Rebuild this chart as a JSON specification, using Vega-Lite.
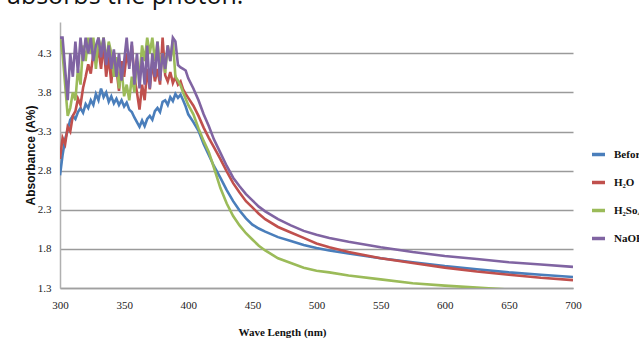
{
  "$schema": "https://vega.github.io/schema/vega-lite/v6.json",
  "width": 513,
  "height": 266,
  "autosize": {"type": "none"},
  "padding": {"left": 60, "top": 22, "right": 66, "bottom": 59},
  "background": "white",
  "title": {"text": "absorbs the photon.", "anchor": "start", "frame": "group", "font": "Open Sans", "fontSize": 25, "fontWeight": "normal", "color": "#111", "baseline": "alphabetic", "offset": 0, "dy": 7, "dx": -53},
  "config": {"view": {"stroke": null}},
  "data": {"values": [
    {"s":"Before","nm":300,"a":2.74},{"s":"Before","nm":302,"a":3.0},{"s":"Before","nm":304,"a":3.2},{"s":"Before","nm":306,"a":3.32},{"s":"Before","nm":308,"a":3.45},{"s":"Before","nm":310,"a":3.5},{"s":"Before","nm":312,"a":3.46},{"s":"Before","nm":314,"a":3.55},{"s":"Before","nm":316,"a":3.6},{"s":"Before","nm":318,"a":3.54},{"s":"Before","nm":320,"a":3.65},{"s":"Before","nm":322,"a":3.6},{"s":"Before","nm":324,"a":3.7},{"s":"Before","nm":326,"a":3.64},{"s":"Before","nm":328,"a":3.78},{"s":"Before","nm":330,"a":3.7},{"s":"Before","nm":332,"a":3.85},{"s":"Before","nm":334,"a":3.74},{"s":"Before","nm":336,"a":3.8},{"s":"Before","nm":338,"a":3.68},{"s":"Before","nm":340,"a":3.75},{"s":"Before","nm":342,"a":3.66},{"s":"Before","nm":344,"a":3.72},{"s":"Before","nm":346,"a":3.64},{"s":"Before","nm":348,"a":3.7},{"s":"Before","nm":350,"a":3.62},{"s":"Before","nm":352,"a":3.67},{"s":"Before","nm":354,"a":3.58},{"s":"Before","nm":356,"a":3.55},{"s":"Before","nm":358,"a":3.48},{"s":"Before","nm":360,"a":3.42},{"s":"Before","nm":362,"a":3.36},{"s":"Before","nm":364,"a":3.44},{"s":"Before","nm":366,"a":3.37},{"s":"Before","nm":368,"a":3.46},{"s":"Before","nm":370,"a":3.5},{"s":"Before","nm":372,"a":3.45},{"s":"Before","nm":374,"a":3.56},{"s":"Before","nm":376,"a":3.6},{"s":"Before","nm":378,"a":3.55},{"s":"Before","nm":380,"a":3.68},{"s":"Before","nm":382,"a":3.7},{"s":"Before","nm":384,"a":3.64},{"s":"Before","nm":386,"a":3.74},{"s":"Before","nm":388,"a":3.69},{"s":"Before","nm":390,"a":3.78},{"s":"Before","nm":392,"a":3.73},{"s":"Before","nm":394,"a":3.77},{"s":"Before","nm":396,"a":3.7},{"s":"Before","nm":398,"a":3.62},{"s":"Before","nm":400,"a":3.52},{"s":"Before","nm":404,"a":3.42},{"s":"Before","nm":408,"a":3.31},{"s":"Before","nm":412,"a":3.14},{"s":"Before","nm":416,"a":3.0},{"s":"Before","nm":420,"a":2.86},{"s":"Before","nm":425,"a":2.71},{"s":"Before","nm":430,"a":2.55},{"s":"Before","nm":435,"a":2.41},{"s":"Before","nm":440,"a":2.29},{"s":"Before","nm":445,"a":2.19},{"s":"Before","nm":450,"a":2.11},{"s":"Before","nm":455,"a":2.06},{"s":"Before","nm":460,"a":2.02},{"s":"Before","nm":470,"a":1.95},{"s":"Before","nm":480,"a":1.9},{"s":"Before","nm":490,"a":1.85},{"s":"Before","nm":500,"a":1.81},{"s":"Before","nm":510,"a":1.78},{"s":"Before","nm":525,"a":1.74},{"s":"Before","nm":550,"a":1.68},{"s":"Before","nm":575,"a":1.63},{"s":"Before","nm":600,"a":1.58},{"s":"Before","nm":625,"a":1.54},{"s":"Before","nm":650,"a":1.5},{"s":"Before","nm":675,"a":1.47},{"s":"Before","nm":700,"a":1.44},

    {"s":"H₂O","nm":300,"a":2.95},{"s":"H₂O","nm":302,"a":3.22},{"s":"H₂O","nm":304,"a":3.14},{"s":"H₂O","nm":306,"a":3.36},{"s":"H₂O","nm":308,"a":3.3},{"s":"H₂O","nm":310,"a":3.5},{"s":"H₂O","nm":312,"a":3.56},{"s":"H₂O","nm":314,"a":3.72},{"s":"H₂O","nm":316,"a":3.64},{"s":"H₂O","nm":318,"a":3.86},{"s":"H₂O","nm":320,"a":4.0},{"s":"H₂O","nm":322,"a":4.16},{"s":"H₂O","nm":324,"a":4.04},{"s":"H₂O","nm":326,"a":4.3},{"s":"H₂O","nm":328,"a":4.18},{"s":"H₂O","nm":330,"a":4.36},{"s":"H₂O","nm":332,"a":4.1},{"s":"H₂O","nm":334,"a":4.42},{"s":"H₂O","nm":336,"a":4.0},{"s":"H₂O","nm":338,"a":4.26},{"s":"H₂O","nm":340,"a":3.92},{"s":"H₂O","nm":342,"a":4.3},{"s":"H₂O","nm":344,"a":4.1},{"s":"H₂O","nm":346,"a":3.82},{"s":"H₂O","nm":348,"a":4.2},{"s":"H₂O","nm":350,"a":4.0},{"s":"H₂O","nm":352,"a":4.3},{"s":"H₂O","nm":354,"a":4.14},{"s":"H₂O","nm":356,"a":4.4},{"s":"H₂O","nm":358,"a":4.0},{"s":"H₂O","nm":360,"a":3.8},{"s":"H₂O","nm":362,"a":3.58},{"s":"H₂O","nm":364,"a":3.9},{"s":"H₂O","nm":366,"a":3.7},{"s":"H₂O","nm":368,"a":4.1},{"s":"H₂O","nm":370,"a":3.84},{"s":"H₂O","nm":372,"a":4.2},{"s":"H₂O","nm":374,"a":3.94},{"s":"H₂O","nm":376,"a":4.1},{"s":"H₂O","nm":378,"a":3.9},{"s":"H₂O","nm":380,"a":4.5},{"s":"H₂O","nm":382,"a":4.02},{"s":"H₂O","nm":384,"a":3.94},{"s":"H₂O","nm":386,"a":4.06},{"s":"H₂O","nm":388,"a":3.92},{"s":"H₂O","nm":390,"a":4.0},{"s":"H₂O","nm":392,"a":3.9},{"s":"H₂O","nm":394,"a":3.94},{"s":"H₂O","nm":396,"a":3.84},{"s":"H₂O","nm":398,"a":3.78},{"s":"H₂O","nm":400,"a":3.73},{"s":"H₂O","nm":404,"a":3.63},{"s":"H₂O","nm":408,"a":3.5},{"s":"H₂O","nm":412,"a":3.35},{"s":"H₂O","nm":416,"a":3.22},{"s":"H₂O","nm":420,"a":3.1},{"s":"H₂O","nm":425,"a":2.95},{"s":"H₂O","nm":430,"a":2.79},{"s":"H₂O","nm":435,"a":2.64},{"s":"H₂O","nm":440,"a":2.52},{"s":"H₂O","nm":445,"a":2.41},{"s":"H₂O","nm":450,"a":2.33},{"s":"H₂O","nm":455,"a":2.25},{"s":"H₂O","nm":460,"a":2.18},{"s":"H₂O","nm":470,"a":2.08},{"s":"H₂O","nm":480,"a":2.01},{"s":"H₂O","nm":490,"a":1.94},{"s":"H₂O","nm":500,"a":1.87},{"s":"H₂O","nm":510,"a":1.82},{"s":"H₂O","nm":525,"a":1.76},{"s":"H₂O","nm":550,"a":1.68},{"s":"H₂O","nm":575,"a":1.62},{"s":"H₂O","nm":600,"a":1.56},{"s":"H₂O","nm":625,"a":1.51},{"s":"H₂O","nm":650,"a":1.47},{"s":"H₂O","nm":675,"a":1.43},{"s":"H₂O","nm":700,"a":1.4},

    {"s":"H₂So₄","nm":300,"a":4.5},{"s":"H₂So₄","nm":302,"a":4.3},{"s":"H₂So₄","nm":304,"a":3.9},{"s":"H₂So₄","nm":306,"a":3.5},{"s":"H₂So₄","nm":308,"a":3.6},{"s":"H₂So₄","nm":310,"a":3.8},{"s":"H₂So₄","nm":312,"a":3.7},{"s":"H₂So₄","nm":314,"a":4.1},{"s":"H₂So₄","nm":316,"a":3.9},{"s":"H₂So₄","nm":318,"a":4.4},{"s":"H₂So₄","nm":320,"a":4.2},{"s":"H₂So₄","nm":322,"a":4.5},{"s":"H₂So₄","nm":324,"a":4.3},{"s":"H₂So₄","nm":326,"a":4.5},{"s":"H₂So₄","nm":328,"a":4.1},{"s":"H₂So₄","nm":330,"a":4.5},{"s":"H₂So₄","nm":332,"a":4.35},{"s":"H₂So₄","nm":334,"a":4.5},{"s":"H₂So₄","nm":336,"a":4.2},{"s":"H₂So₄","nm":338,"a":4.45},{"s":"H₂So₄","nm":340,"a":4.3},{"s":"H₂So₄","nm":342,"a":4.0},{"s":"H₂So₄","nm":344,"a":4.25},{"s":"H₂So₄","nm":346,"a":3.85},{"s":"H₂So₄","nm":348,"a":4.1},{"s":"H₂So₄","nm":350,"a":3.75},{"s":"H₂So₄","nm":352,"a":3.9},{"s":"H₂So₄","nm":354,"a":3.7},{"s":"H₂So₄","nm":356,"a":4.0},{"s":"H₂So₄","nm":358,"a":3.8},{"s":"H₂So₄","nm":360,"a":4.2},{"s":"H₂So₄","nm":362,"a":4.0},{"s":"H₂So₄","nm":364,"a":4.4},{"s":"H₂So₄","nm":366,"a":4.2},{"s":"H₂So₄","nm":368,"a":4.5},{"s":"H₂So₄","nm":370,"a":4.3},{"s":"H₂So₄","nm":372,"a":4.5},{"s":"H₂So₄","nm":374,"a":4.2},{"s":"H₂So₄","nm":376,"a":4.45},{"s":"H₂So₄","nm":378,"a":4.1},{"s":"H₂So₄","nm":380,"a":4.3},{"s":"H₂So₄","nm":382,"a":4.05},{"s":"H₂So₄","nm":384,"a":4.4},{"s":"H₂So₄","nm":386,"a":4.2},{"s":"H₂So₄","nm":388,"a":4.47},{"s":"H₂So₄","nm":390,"a":4.0},{"s":"H₂So₄","nm":392,"a":3.95},{"s":"H₂So₄","nm":394,"a":3.89},{"s":"H₂So₄","nm":396,"a":3.8},{"s":"H₂So₄","nm":398,"a":3.72},{"s":"H₂So₄","nm":400,"a":3.64},{"s":"H₂So₄","nm":404,"a":3.52},{"s":"H₂So₄","nm":408,"a":3.34},{"s":"H₂So₄","nm":412,"a":3.18},{"s":"H₂So₄","nm":416,"a":3.04},{"s":"H₂So₄","nm":420,"a":2.84},{"s":"H₂So₄","nm":425,"a":2.58},{"s":"H₂So₄","nm":430,"a":2.38},{"s":"H₂So₄","nm":435,"a":2.22},{"s":"H₂So₄","nm":440,"a":2.1},{"s":"H₂So₄","nm":445,"a":2.0},{"s":"H₂So₄","nm":450,"a":1.92},{"s":"H₂So₄","nm":455,"a":1.84},{"s":"H₂So₄","nm":460,"a":1.78},{"s":"H₂So₄","nm":470,"a":1.68},{"s":"H₂So₄","nm":480,"a":1.62},{"s":"H₂So₄","nm":490,"a":1.56},{"s":"H₂So₄","nm":500,"a":1.52},{"s":"H₂So₄","nm":510,"a":1.5},{"s":"H₂So₄","nm":525,"a":1.46},{"s":"H₂So₄","nm":550,"a":1.41},{"s":"H₂So₄","nm":575,"a":1.36},{"s":"H₂So₄","nm":600,"a":1.33},{"s":"H₂So₄","nm":625,"a":1.305},{"s":"H₂So₄","nm":650,"a":1.28},{"s":"H₂So₄","nm":675,"a":1.26},{"s":"H₂So₄","nm":700,"a":1.24},

    {"s":"NaOH","nm":300,"a":4.5},{"s":"NaOH","nm":302,"a":4.5},{"s":"NaOH","nm":304,"a":4.1},{"s":"NaOH","nm":306,"a":3.7},{"s":"NaOH","nm":308,"a":4.3},{"s":"NaOH","nm":310,"a":4.0},{"s":"NaOH","nm":312,"a":4.45},{"s":"NaOH","nm":314,"a":4.05},{"s":"NaOH","nm":316,"a":4.5},{"s":"NaOH","nm":318,"a":4.2},{"s":"NaOH","nm":320,"a":4.5},{"s":"NaOH","nm":322,"a":4.3},{"s":"NaOH","nm":324,"a":4.5},{"s":"NaOH","nm":326,"a":4.2},{"s":"NaOH","nm":328,"a":4.4},{"s":"NaOH","nm":330,"a":4.5},{"s":"NaOH","nm":332,"a":4.25},{"s":"NaOH","nm":334,"a":4.5},{"s":"NaOH","nm":336,"a":4.15},{"s":"NaOH","nm":338,"a":4.4},{"s":"NaOH","nm":340,"a":4.1},{"s":"NaOH","nm":342,"a":4.35},{"s":"NaOH","nm":344,"a":4.0},{"s":"NaOH","nm":346,"a":4.3},{"s":"NaOH","nm":348,"a":3.95},{"s":"NaOH","nm":350,"a":4.2},{"s":"NaOH","nm":352,"a":4.5},{"s":"NaOH","nm":354,"a":4.1},{"s":"NaOH","nm":356,"a":4.45},{"s":"NaOH","nm":358,"a":3.9},{"s":"NaOH","nm":360,"a":4.3},{"s":"NaOH","nm":362,"a":3.85},{"s":"NaOH","nm":364,"a":4.25},{"s":"NaOH","nm":366,"a":3.9},{"s":"NaOH","nm":368,"a":4.4},{"s":"NaOH","nm":370,"a":3.85},{"s":"NaOH","nm":372,"a":4.3},{"s":"NaOH","nm":374,"a":4.0},{"s":"NaOH","nm":376,"a":4.45},{"s":"NaOH","nm":378,"a":3.95},{"s":"NaOH","nm":380,"a":4.3},{"s":"NaOH","nm":382,"a":4.1},{"s":"NaOH","nm":384,"a":4.4},{"s":"NaOH","nm":386,"a":4.2},{"s":"NaOH","nm":388,"a":4.5},{"s":"NaOH","nm":390,"a":4.45},{"s":"NaOH","nm":392,"a":4.15},{"s":"NaOH","nm":394,"a":4.12},{"s":"NaOH","nm":396,"a":4.1},{"s":"NaOH","nm":398,"a":4.08},{"s":"NaOH","nm":400,"a":3.98},{"s":"NaOH","nm":404,"a":3.85},{"s":"NaOH","nm":408,"a":3.7},{"s":"NaOH","nm":412,"a":3.52},{"s":"NaOH","nm":416,"a":3.37},{"s":"NaOH","nm":420,"a":3.2},{"s":"NaOH","nm":425,"a":3.03},{"s":"NaOH","nm":430,"a":2.86},{"s":"NaOH","nm":435,"a":2.71},{"s":"NaOH","nm":440,"a":2.6},{"s":"NaOH","nm":445,"a":2.5},{"s":"NaOH","nm":450,"a":2.42},{"s":"NaOH","nm":455,"a":2.34},{"s":"NaOH","nm":460,"a":2.28},{"s":"NaOH","nm":470,"a":2.18},{"s":"NaOH","nm":480,"a":2.1},{"s":"NaOH","nm":490,"a":2.03},{"s":"NaOH","nm":500,"a":1.98},{"s":"NaOH","nm":510,"a":1.94},{"s":"NaOH","nm":525,"a":1.89},{"s":"NaOH","nm":550,"a":1.82},{"s":"NaOH","nm":575,"a":1.76},{"s":"NaOH","nm":600,"a":1.71},{"s":"NaOH","nm":625,"a":1.67},{"s":"NaOH","nm":650,"a":1.63},{"s":"NaOH","nm":675,"a":1.6},{"s":"NaOH","nm":700,"a":1.57}
  ]},
  "mark": {"type": "line", "strokeWidth": 2.6, "clip": true},
  "encoding": {
    "x": {"field": "nm", "type": "quantitative", "scale": {"domain": [300, 700], "nice": false, "zero": false},
      "axis": {"values": [300,350,400,450,500,550,600,650,700], "grid": false, "ticks": false, "domainColor": "#a0a0a0", "domainWidth": 1.5,
        "labelFont": "Liberation Serif", "labelFontSize": 11, "labelColor": "#222", "labelPadding": 11, "labelFlush": false, "labelOverlap": false,
        "title": "Wave Length (nm)", "titleFont": "Liberation Serif", "titleFontWeight": "bold", "titleFontSize": 11, "titleColor": "#111",
        "titleX": 222, "titleY": 44, "titleBaseline": "middle", "titleAnchor": null}},
    "y": {"field": "a", "type": "quantitative", "scale": {"domain": [1.3, 4.7], "nice": false, "zero": false},
      "axis": {"values": [1.3,1.8,2.3,2.8,3.3,3.8,4.3], "format": ".1f", "grid": true, "gridColor": "#9a9a9a", "gridWidth": 1.5, "ticks": false,
        "domainColor": "#b0b0b0", "domainWidth": 1.5, "labelFlush": false,
        "labelFont": "Liberation Serif", "labelFontSize": 11, "labelColor": "#222", "labelPadding": 9,
        "title": "Absorbance (A%)", "titleFont": "Liberation Sans", "titleFontWeight": "bold", "titleFontSize": 12, "titleColor": "#111",
        "titleX": -30, "titleY": 133, "titleAngle": -90, "titleAlign": "center", "titleBaseline": "middle"}},
    "color": {"field": "s", "type": "nominal", "sort": ["Before", "H₂O", "H₂So₄", "NaOH"],
      "scale": {"domain": ["Before", "H₂O", "H₂So₄", "NaOH"], "range": ["#4a7ebb", "#c0504d", "#9bbb59", "#8064a2"]},
      "legend": {"orient": "none", "legendX": 530, "legendY": 124, "title": null, "symbolType": "stroke", "symbolStrokeWidth": 3.5, "symbolSize": 170,
        "labelFont": "Liberation Serif", "labelFontWeight": "bold", "labelFontSize": 11, "labelColor": "#111", "labelOffset": 7, "rowPadding": 12}}
  }
}
